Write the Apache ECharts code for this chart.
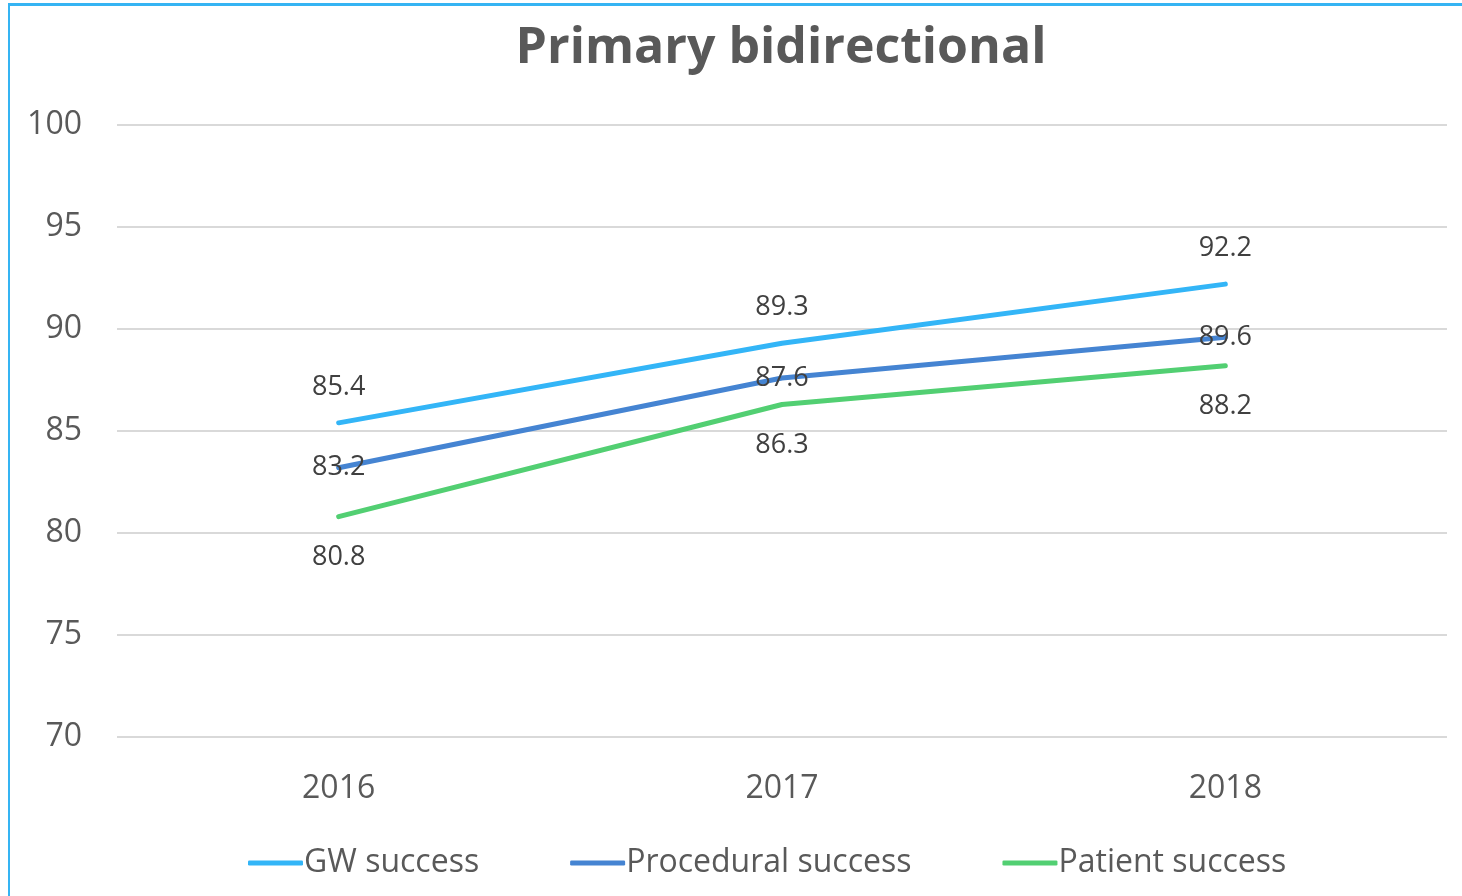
<!DOCTYPE html>
<html><head><meta charset="utf-8">
<script src="https://cdn.jsdelivr.net/npm/echarts@6/dist/echarts.min.js"></script>
<style>
html,body{margin:0;padding:0;background:#fff;overflow:hidden}
#frame{position:absolute;left:8px;top:3px;width:1470px;height:900px;border-left:2px solid #35b4f3;border-top:3px solid #35b4f3;box-sizing:border-box}
#c{position:absolute;left:0;top:0;width:1462px;height:896px}
</style></head>
<body>
<div id="frame"></div>
<div id="c"></div>
<script>
const categories = ['2016', '2017', '2018'];
const gwSuccess = [85.4, 89.3, 92.2];
const proceduralSuccess = [83.2, 87.6, 89.6];
const patientSuccess = [80.8, 86.3, 88.2];
const seriesNames = ['GW success', 'Procedural success', 'Patient success'];
const yTicks = { min: 70, max: 100, interval: 5 };

const font = '"Open Sans", "Noto Sans", sans-serif';
const chart = echarts.init(document.getElementById('c'), null, { renderer: 'canvas' });
function mk(name, data, color, pos, dist) {
  return {
    name, type: 'line', data, symbol: 'circle', symbolSize: 1, showSymbol: true, smooth: false,
    lineStyle: { color, width: 5, cap: 'round' },
    itemStyle: { color },
    label: { show: true, position: pos, distance: dist, color: '#404040', fontSize: 27, fontFamily: font },
    emphasis: { disabled: true },
    z: 3
  };
}
chart.setOption({
  animation: false,
  title: { text: 'Primary bidirectional', left: 776, textAlign: 'center', top: 19,
    textStyle: { fontSize: 50, fontWeight: 'bold', color: '#595959', fontFamily: font } },
  legend: {
    bottom: 12, left: 243, itemWidth: 55, itemHeight: 5, itemGap: 91,
    icon: 'roundRect',
    textStyle: { fontSize: 32, color: '#595959', fontFamily: font, padding: [0, 0, 0, -4] },
    data: seriesNames
  },
  grid: { left: 117, right: 15, top: 125, bottom: 159 },
  xAxis: {
    type: 'category', data: categories, boundaryGap: true,
    axisLine: { show: false }, axisTick: { show: false },
    axisLabel: { fontSize: 32, color: '#595959', fontFamily: font, margin: 36 }
  },
  yAxis: {
    type: 'value', min: yTicks.min, max: yTicks.max, interval: yTicks.interval,
    axisLine: { show: false }, axisTick: { show: false },
    splitLine: { lineStyle: { color: '#d9d9d9', width: 2 } },
    axisLabel: { fontSize: 32, color: '#595959', fontFamily: font, margin: 35 }
  },
  series: [
    mk(seriesNames[0], gwSuccess, '#33b5f7', 'top', 22),
    mk(seriesNames[1], proceduralSuccess, '#4584d2', 'inside', 0),
    mk(seriesNames[2], patientSuccess, '#52cf72', 'bottom', 27)
  ]
});
</script>
</body></html>
